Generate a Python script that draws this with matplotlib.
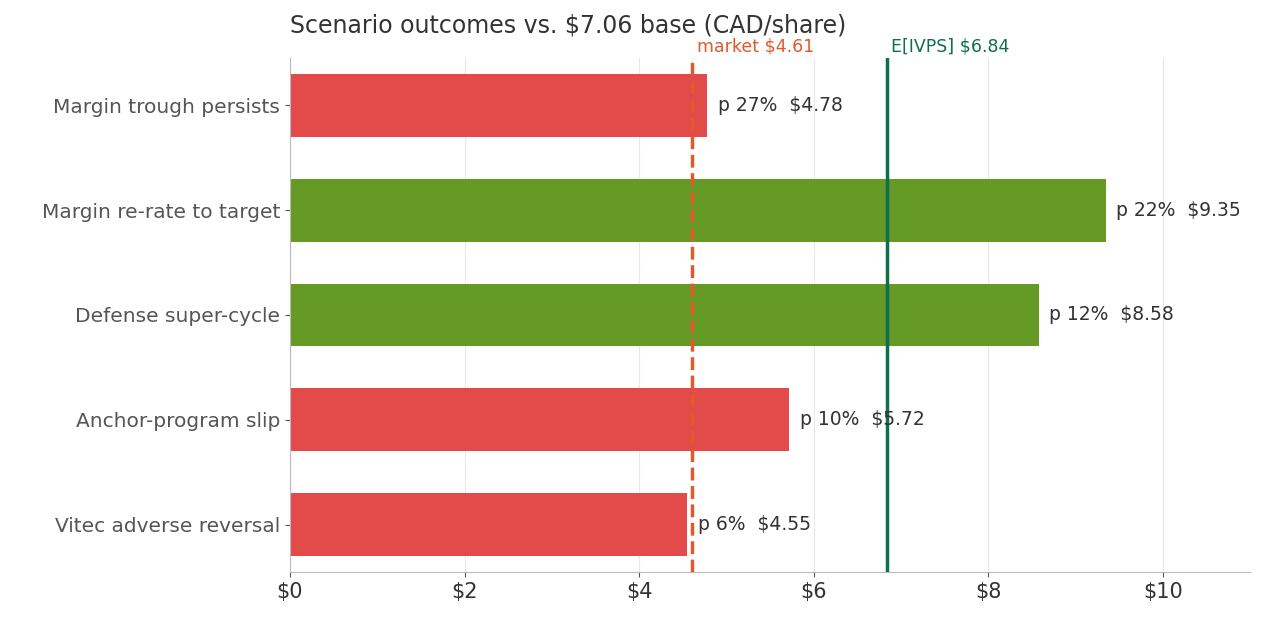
import matplotlib.pyplot as plt
from matplotlib.ticker import FuncFormatter

scenarios = ['Margin trough persists', 'Margin re-rate to target', 'Defense super-cycle',
             'Anchor-program slip', 'Vitec adverse reversal']
values = [4.78, 9.35, 8.58, 5.72, 4.55]
probs = [27, 22, 12, 10, 6]
upside = [False, True, True, False, False]
market = 4.61
e_ivps = 6.84

fig = plt.figure(figsize=(12.7, 6.25), dpi=100)
ax = fig.add_axes([290 / 1270, 1 - 572 / 625, 960 / 1270, 514 / 625])

ypos = list(range(len(scenarios)))[::-1]
colors = ['#659A26' if u else '#E34A4A' for u in upside]
ax.barh(ypos, values, height=0.6, color=colors, zorder=2)
for y, v, p in zip(ypos, values, probs):
    ax.text(v + 0.12, y, f'p {p}%  ${v:.2f}', va='center', fontsize=13.5, color='#333333', zorder=4)

ax.axvline(market, color='#E05A2B', ls='--', lw=2.5, zorder=3)
ax.axvline(e_ivps, color='#0E6E4E', lw=2.5, zorder=3)
ax.text(market + 0.05, 1.005, f'market ${market:.2f}', transform=ax.get_xaxis_transform(),
        color='#E05A2B', fontsize=12.5, va='bottom')
ax.text(e_ivps + 0.05, 1.005, f'E[IVPS] ${e_ivps:.2f}', transform=ax.get_xaxis_transform(),
        color='#0E6E4E', fontsize=12.5, va='bottom')

ax.set_yticks(ypos)
ax.set_yticklabels(scenarios, fontsize=14.5, color='#333333')
ax.set_xlim(0, 11)
ax.set_ylim(-0.45, 4.45)
ax.set_xticks([0, 2, 4, 6, 8, 10])
ax.xaxis.set_major_formatter(FuncFormatter(lambda x, _: f'${x:.0f}'))
ax.tick_params(axis='x', labelsize=15, colors='#333333')
ax.tick_params(colors='#555555')
for lab in ax.get_xticklabels():
    lab.set_color('#333333')
ax.grid(axis='x', color='#e8e8e8', zorder=0)
for s in ['top', 'right']:
    ax.spines[s].set_visible(False)
for s in ['left', 'bottom']:
    ax.spines[s].set_color('#bbbbbb')
ax.set_title('Scenario outcomes vs. $7.06 base (CAD/share)', loc='left', fontsize=17,
             color='#333333', pad=18)

fig.savefig('out.png')
